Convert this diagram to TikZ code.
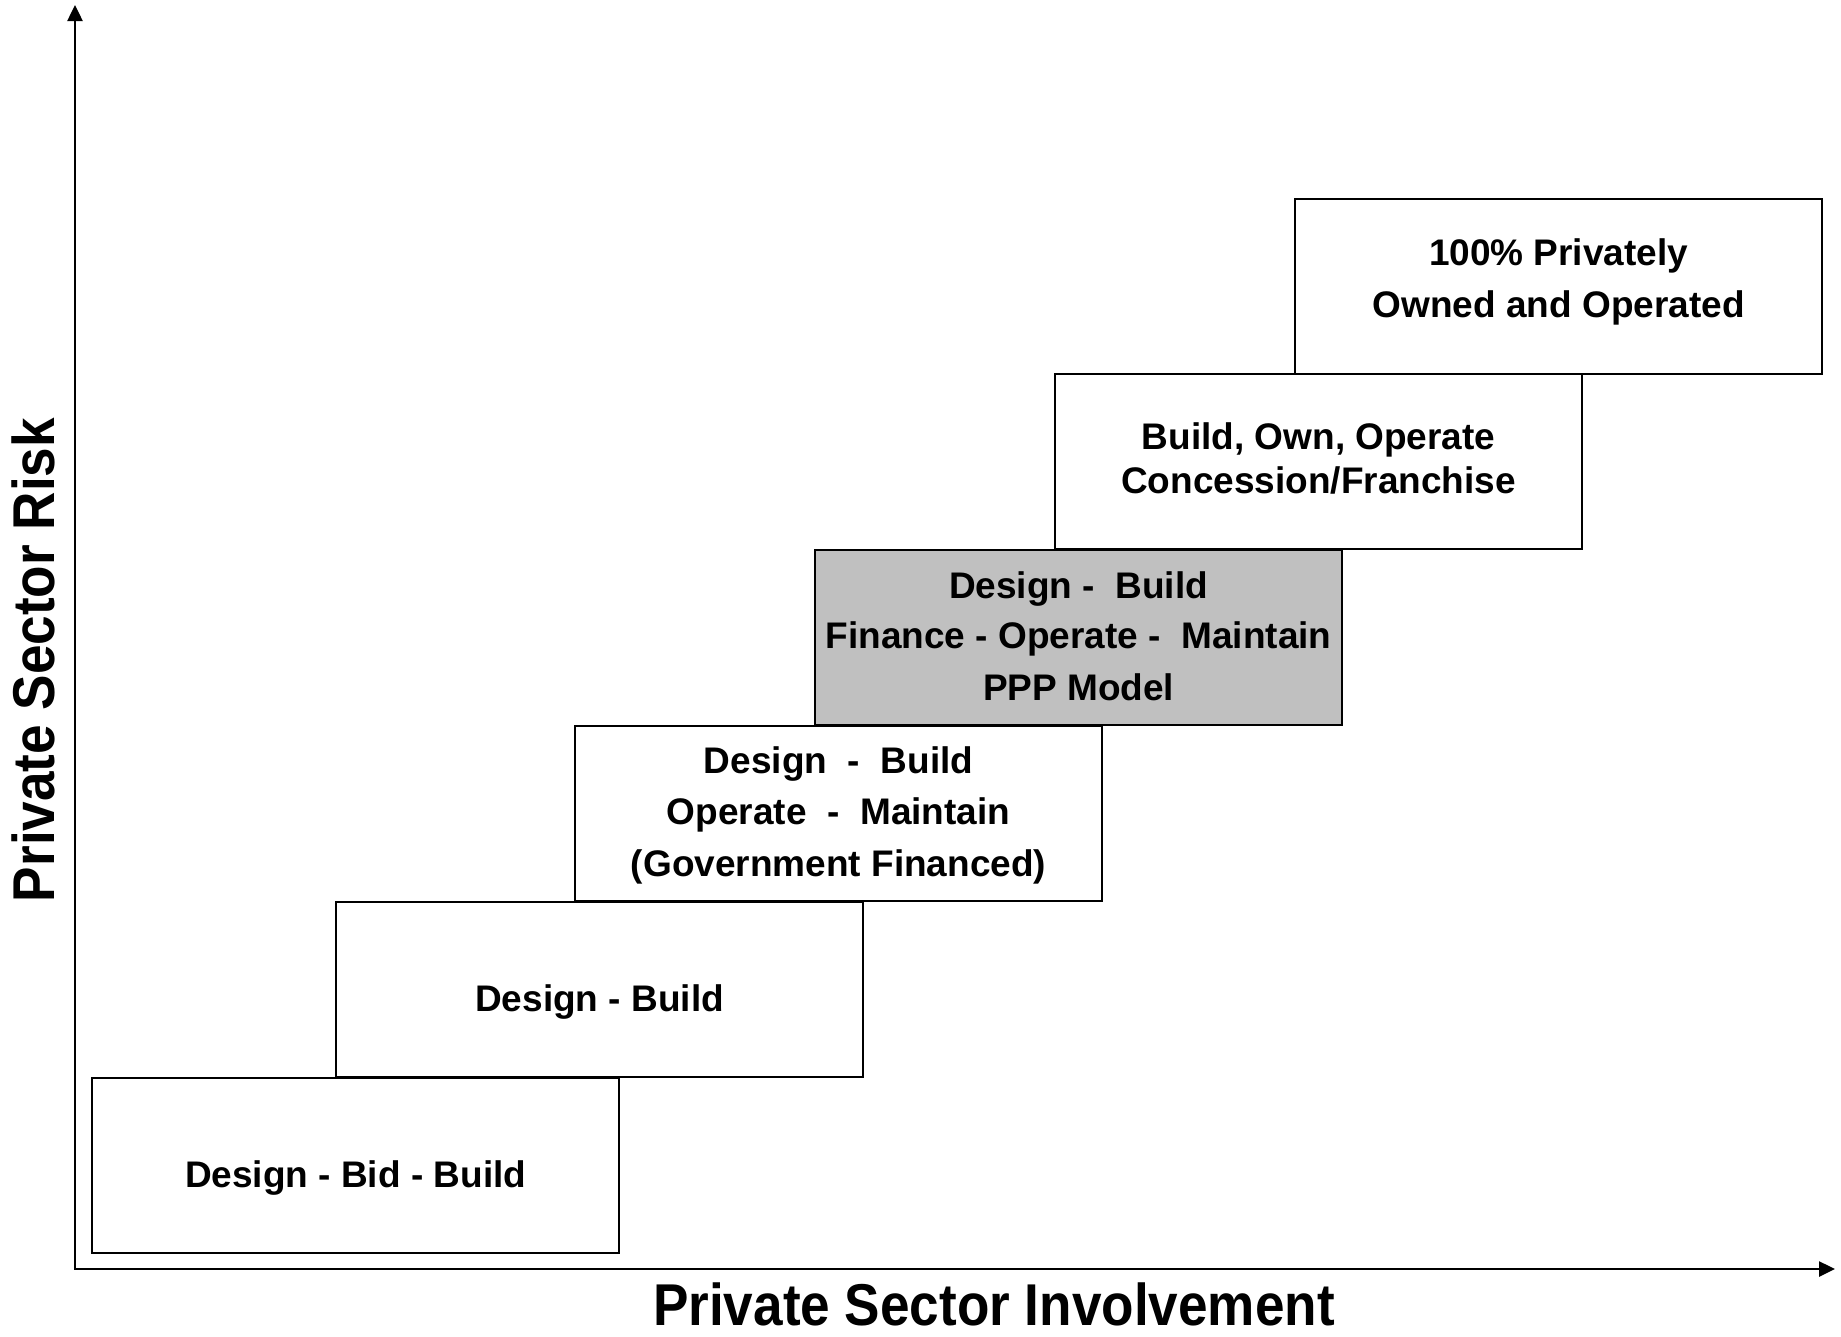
\documentclass[tikz,border=0pt]{standalone}
\usepackage{fontspec}
\setmainfont{Liberation Sans}
\usetikzlibrary{arrows.meta}
\begin{document}
\begin{tikzpicture}[x=1pt,y=-1pt,
  stepbox/.style={draw=black, line width=2.2pt, fill=white, rectangle, minimum width=527pt, minimum height=175pt, inner sep=0pt, anchor=north west},
  boxtext/.style={font=\fontsize{37}{44}\selectfont\bfseries, anchor=base, inner sep=0pt},
  axistitle/.style={font=\fontsize{59}{70}\selectfont\bfseries, anchor=base, inner sep=0pt},
  axisline/.style={line width=2.5pt, {Triangle[length=16pt,width=15pt]}-{Triangle[length=16pt,width=15pt]}}
]
\useasboundingbox (0,0) rectangle (1841,1336);
\fill[white] (0,0) rectangle (1841,1336);

% axes
\coordinate (O) at (75,1269);
\coordinate (ytip) at (75,5);
\coordinate (xtip) at (1835,1269);
\draw[axisline] (ytip) -- (O) -- (xtip);

% boxes
\node[stepbox] (b1) at (91,1077) {};
\node[stepbox] (b2) at (335,901) {};
\node[stepbox] (b3) at (574,725) {};
\node[stepbox, fill={rgb,255:red,192;green,192;blue,192}] (b4) at (814,549) {};
\node[stepbox] (b5) at (1054,373) {};
\node[stepbox] (b6) at (1294,198) {};

% texts
\node[boxtext] (t1) at (b1.center |- 0,1187) {Design - Bid - Build};
\node[boxtext] (t2) at (b2.center |- 0,1011) {Design - Build};
\node[boxtext] (t3a) at (b3.center |- 0,773) {Design\ \ -\ \ Build};
\node[boxtext] (t3b) at (b3.center |- 0,824) {Operate\ \ -\ \ Maintain};
\node[boxtext] (t3c) at (b3.center |- 0,876) {(Government Financed)};
\node[boxtext] (t4a) at (b4.center |- 0,598) {Design -\ \ Build};
\node[boxtext] (t4b) at (b4.center |- 0,648) {Finance - Operate -\ \ Maintain};
\node[boxtext] (t4c) at (b4.center |- 0,700) {PPP Model};
\node[boxtext] (t5a) at (b5.center |- 0,449) {Build, Own, Operate};
\node[boxtext] (t5b) at (b5.center |- 0,493) {Concession/Franchise};
\node[boxtext] (t6a) at (b6.center |- 0,265) {100\% Privately};
\node[boxtext] (t6b) at (b6.center |- 0,317) {Owned and Operated};

% axis titles
\node[axistitle] (xt) at (994,1325) {\scalebox{0.9}[1]{Private Sector Involvement}};
\node[axistitle, rotate=90] (yt) at (54,660) {\scalebox{0.9}[1]{Private Sector Risk}};
\end{tikzpicture}
\end{document}
